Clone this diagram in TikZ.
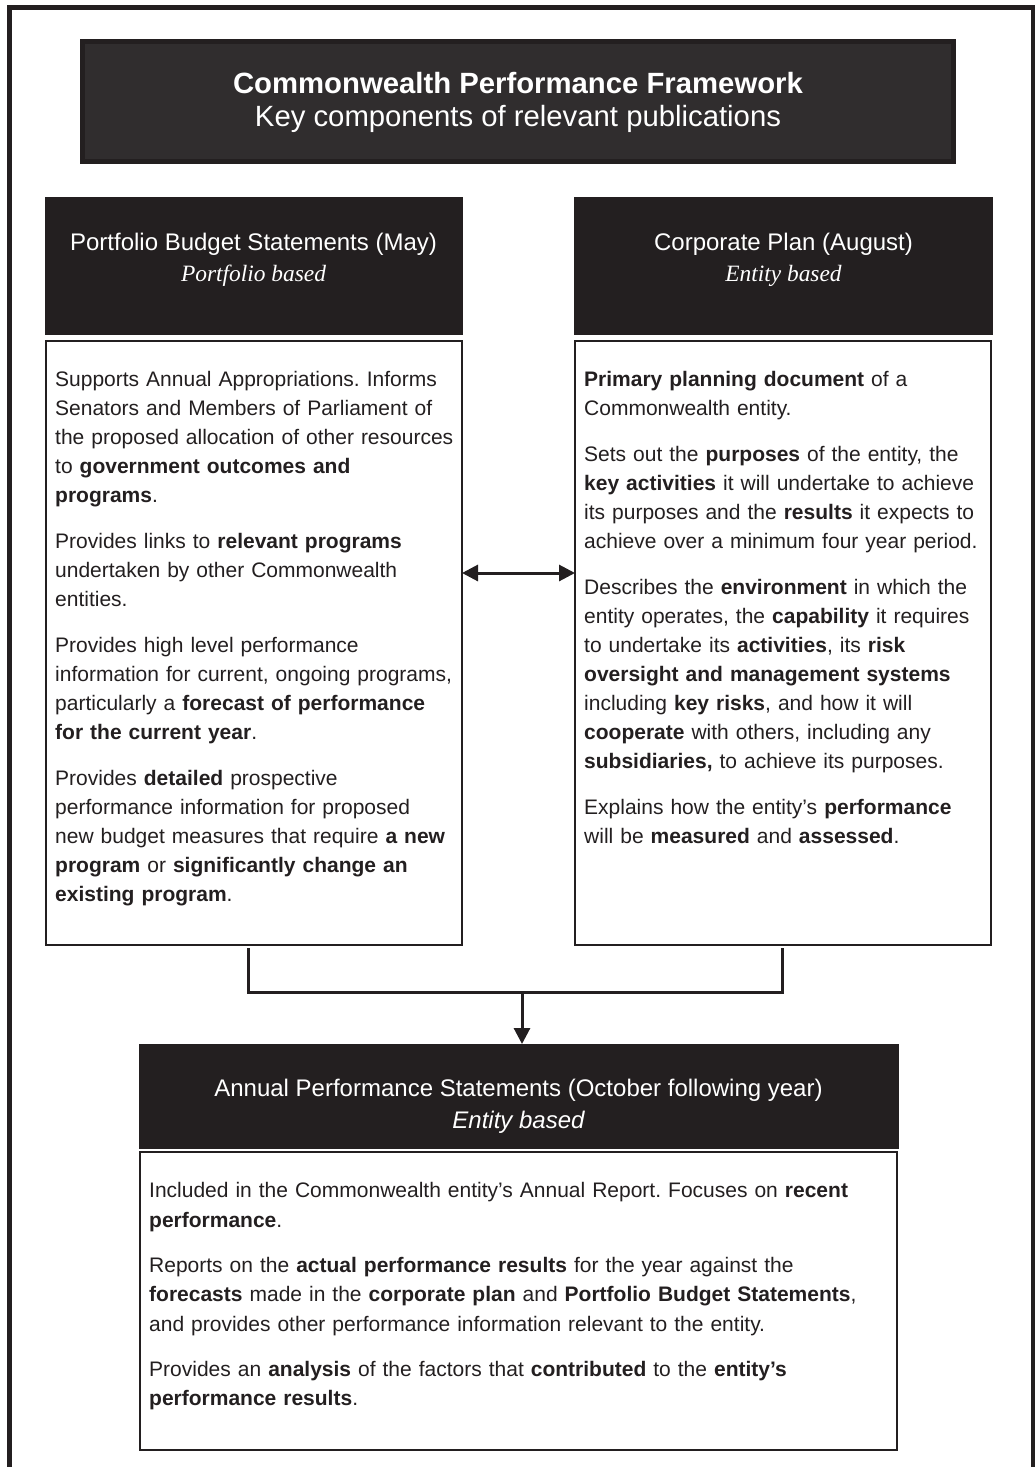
\documentclass[tikz,border=0pt]{standalone}
\usepackage{fontspec}
\setmainfont{Liberation Sans}
\newfontfamily\pbserif{Liberation Serif}
\usetikzlibrary{arrows.meta}
\definecolor{ink}{HTML}{231F20}
\definecolor{titlefill}{HTML}{302D2E}
\frenchspacing
\begin{document}
\begin{tikzpicture}[x=1pt,y=-1pt,
  titlebox/.style={fill=titlefill,draw=ink,line width=5pt,inner sep=0,outer sep=0,anchor=north west},
  hdrbox/.style={fill=ink,draw=ink,line width=1pt,inner sep=0,outer sep=0,anchor=north west},
  bodybox/.style={fill=white,draw=ink,line width=1.4pt,inner sep=0,outer sep=0,anchor=north west},
  hdrtext/.style={anchor=base,text=white,inner sep=0,font=\fontsize{24}{28}\selectfont},
  hdrital/.style={anchor=base,text=white,inner sep=0,font=\pbserif\itshape\fontsize{23.4}{28}\selectfont},
  bodytext/.style={anchor=base west,inner sep=0,align=left,text=ink},
  conn/.style={draw=ink,line width=3pt,line join=miter},
  tip/.tip={Triangle[length=16pt,width=16pt]}
]
\useasboundingbox (0,0) rectangle (1035,1467);
\fill[white] (0,0) rectangle (1035,1467);
% outer frame (open at bottom)
\draw[ink,line width=4.5pt] (9.5,1470) -- (9.5,7.5) -- (1033,7.5) -- (1033,1470);

% title
\node[titlebox,minimum width=871pt,minimum height=120pt] (title) at (82.5,41.5) {};
\node[anchor=base,text=white,inner sep=0,font=\fontsize{29.3}{34}\selectfont\bfseries] (t1) at (518,93.3) {Commonwealth Performance Framework};
\node[anchor=base,text=white,inner sep=0,font=\fontsize{29.3}{34}\selectfont] (t2) at (518,126) {Key components of relevant publications};

% headers
\node[hdrbox,minimum width=417pt,minimum height=137pt] (lhead) at (45,197) {};
\node[hdrbox,minimum width=418pt,minimum height=137pt] (rhead) at (574.5,197) {};
\node[hdrtext] (lh1) at (253.5,250) {Portfolio Budget Statements (May)};
\node[hdrital] (lh2) at (253.5,281.5) {Portfolio based};
\node[hdrtext] (rh1) at (783.5,250) {Corporate Plan (August)};
\node[hdrital] (rh2) at (783.5,281) {Entity based};

% bodies
\node[bodybox,minimum width=416pt,minimum height=604pt] (lbody) at (46,341) {};
\node[bodybox,minimum width=416pt,minimum height=604pt] (rbody) at (575,341) {};

\node[bodytext,text width=460pt,font=\fontsize{21}{29}\selectfont] (ltext) at (55,386.5) {%
Supports Annual Appropriations. Informs\\
Senators and Members of Parliament of\\
the proposed allocation of other resources\\
to \textbf{government outcomes and}\\
\textbf{programs}.\\[17pt]
Provides links to \textbf{relevant programs}\\
undertaken by other Commonwealth\\
entities.\\[17pt]
Provides high level performance\\
information for current, ongoing programs,\\
particularly a \textbf{forecast of performance}\\
\textbf{for the current year}.\\[17pt]
Provides \textbf{detailed} prospective\\
performance information for proposed\\
new budget measures that require \textbf{a new}\\
\textbf{program} or \textbf{significantly change an}\\
\textbf{existing program}.};

\node[bodytext,text width=460pt,font=\fontsize{21}{29}\selectfont] (rtext) at (584,386.5) {%
\textbf{Primary planning document} of a\\
Commonwealth entity.\\[17pt]
Sets out the \textbf{purposes} of the entity, the\\
\textbf{key activities} it will undertake to achieve\\
its purposes and the \textbf{results} it expects to\\
achieve over a minimum four year period.\\[17pt]
Describes the \textbf{environment} in which the\\
entity operates, the \textbf{capability} it requires\\
to undertake its \textbf{activities}, its \textbf{risk}\\
\textbf{oversight and management systems}\\
including \textbf{key risks}, and how it will\\
\textbf{cooperate} with others, including any\\
\textbf{subsidiaries,} to achieve its purposes.\\[17pt]
Explains how the entity’s \textbf{performance}\\
will be \textbf{measured} and \textbf{assessed}.};

% bottom header and body
\node[hdrbox,minimum width=759pt,minimum height=104pt] (bhead) at (139,1044) {};
\node[hdrtext] (bh1) at (518.5,1096.7) {Annual Performance Statements (October following year)};
\node[hdrtext,font=\fontsize{24}{28}\selectfont\itshape] (bh2) at (518.5,1128) {Entity based};
\node[bodybox,minimum width=757pt,minimum height=298pt] (bbody) at (140,1152) {};
\node[bodytext,text width=800pt,font=\fontsize{21}{29.5}\selectfont] (btext) at (149,1197.5) {%
Included in the Commonwealth entity’s Annual Report. Focuses on \textbf{recent}\\
\textbf{performance}.\\[15.5pt]
Reports on the \textbf{actual performance results} for the year against the\\
\textbf{forecasts} made in the \textbf{corporate plan} and \textbf{Portfolio Budget Statements},\\
and provides other performance information relevant to the entity.\\[15.5pt]
Provides an \textbf{analysis} of the factors that \textbf{contributed} to the \textbf{entity’s}\\
\textbf{performance results}.};

% connectors
\draw[conn,{tip}-{tip}] ([yshift=70pt]lbody.east) -- ([yshift=70pt]rbody.west);
\coordinate (jn) at (522,992);
\draw[conn] ([xshift=-5.5pt,yshift=-3pt]lbody.south) |- (jn) -| ([xshift=-1pt,yshift=-3pt]rbody.south);
\draw[conn,-{tip}] (jn) -- (jn |- bhead.north);
\end{tikzpicture}
\end{document}
